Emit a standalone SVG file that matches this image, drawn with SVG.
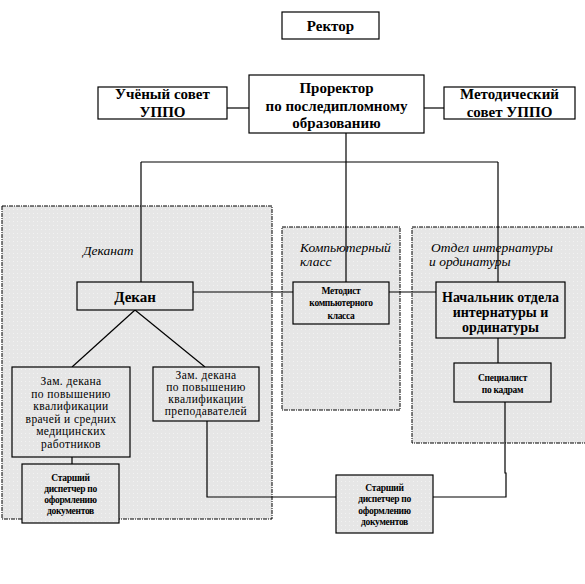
<svg xmlns="http://www.w3.org/2000/svg" width="585" height="584" viewBox="0 0 585 584" font-family="'Liberation Serif', 'Times New Roman', 'DejaVu Serif', serif">
<defs>
<pattern id="dots" width="4" height="4" patternUnits="userSpaceOnUse">
<rect width="4" height="4" fill="#e6e6e6"/>
<rect x="1" y="1" width="1" height="1" fill="#f2f2f2"/>
</pattern>
<style>
.region{fill:url(#dots);stroke:#000;stroke-width:1;stroke-dasharray:4 1 1 1}
.box{fill:#fff;stroke:#000;stroke-width:1.2}
.gbox{fill:url(#dots);stroke:#000;stroke-width:1.2}
.c{fill:none;stroke:#000;stroke-width:1.2}
text{font-family:'Liberation Serif','Times New Roman','DejaVu Serif',serif;fill:#000;text-anchor:middle}
.b15{font-size:15px;font-weight:bold}
.b14{font-size:14px;font-weight:bold}
.b10{font-size:9.5px;font-weight:bold;letter-spacing:-0.3px}
.r13{font-size:11.5px;letter-spacing:0.4px}
.lbl{font-size:13.5px;font-style:italic;text-anchor:start}
</style>
</defs>
<rect width="585" height="584" fill="#fff"/>
<g id="regions">
<rect id="dekanat-area" class="region" x="2" y="206" width="270" height="313"/>
<text class="lbl" x="83" y="255">Деканат</text>
<rect id="comp-area" class="region" x="282" y="227" width="118" height="183"/>
<text class="lbl" x="300" y="252">Компьютерный</text>
<text class="lbl" x="300" y="266">класс</text>
<rect id="otdel-area" class="region" x="412" y="227" width="176" height="216"/>
<text class="lbl" x="431" y="252">Отдел интернатуры</text>
<text class="lbl" x="429" y="266">и ординатуры</text>
</g>
<g id="connectors">
<line class="c" x1="227" y1="108" x2="249" y2="108"/>
<line class="c" x1="424" y1="108" x2="444" y2="108"/>
<line class="c" x1="346" y1="133" x2="346" y2="282"/>
<line class="c" x1="141" y1="162" x2="498" y2="162"/>
<line class="c" x1="141" y1="162" x2="141" y2="282"/>
<line class="c" x1="498" y1="162" x2="498" y2="282"/>
<line class="c" x1="193" y1="292" x2="293" y2="292"/>
<line class="c" x1="389" y1="292" x2="436" y2="292"/>
<line class="c" x1="135" y1="310" x2="72" y2="367"/>
<line class="c" x1="135" y1="310" x2="205" y2="367"/>
<line class="c" x1="72" y1="457" x2="72" y2="464"/>
<line class="c" x1="498" y1="338" x2="498" y2="363"/>
<polyline class="c" points="207,421 207,497 336,497"/>
<polyline class="c" points="505,402 505,473 506,473 506,497 433,497"/>
</g>
<g id="rektor">
<rect class="box" x="282" y="12" width="97" height="27"/>
<text class="b15" x="330.5" y="31">Ректор</text>
</g>
<g id="prorektor">
<rect class="box" x="249" y="75" width="175" height="58"/>
<text class="b15" x="336.5" y="93">Проректор</text>
<text class="b15" x="336.5" y="111">по последипломному</text>
<text class="b15" x="336.5" y="128">образованию</text>
</g>
<g id="uchsovet">
<rect class="box" x="98" y="87" width="129" height="32"/>
<text class="b15" x="162.5" y="99">Учёный совет</text>
<text class="b15" x="162.5" y="117">УППО</text>
</g>
<g id="metsovet">
<rect class="box" x="444" y="87" width="131" height="32"/>
<text class="b15" x="509.5" y="99">Методический</text>
<text class="b15" x="509.5" y="117">совет УППО</text>
</g>
<g id="dekan">
<rect class="gbox" x="77" y="282" width="116" height="28"/>
<text class="b15" x="135" y="302">Декан</text>
</g>
<g id="metodist">
<rect class="gbox" x="293" y="282" width="96" height="42"/>
<text class="b10" x="341" y="294">Методист</text>
<text class="b10" x="341" y="306">компьютерного</text>
<text class="b10" x="341" y="319">класса</text>
</g>
<g id="nachalnik">
<rect class="gbox" x="436" y="282" width="129" height="56"/>
<text class="b14" x="500.5" y="302">Начальник отдела</text>
<text class="b14" x="500.5" y="317">интернатуры и</text>
<text class="b14" x="500.5" y="332">ординатуры</text>
</g>
<g id="specialist">
<rect class="gbox" x="454" y="363" width="97" height="39"/>
<text class="b10" x="502.5" y="381">Специалист</text>
<text class="b10" x="502.5" y="393">по кадрам</text>
</g>
<g id="zam1">
<rect class="gbox" x="12" y="367" width="118" height="90"/>
<text class="r13" x="71" y="385">Зам. декана</text>
<text class="r13" x="71" y="397.5">по повышению</text>
<text class="r13" x="71" y="410">квалификации</text>
<text class="r13" x="71" y="422.5">врачей и средних</text>
<text class="r13" x="71" y="435">медицинских</text>
<text class="r13" x="71" y="447.5">работников</text>
</g>
<g id="zam2">
<rect class="gbox" x="153" y="367" width="106" height="54"/>
<text class="r13" x="206" y="379">Зам. декана</text>
<text class="r13" x="206" y="391">по повышению</text>
<text class="r13" x="206" y="403">квалификации</text>
<text class="r13" x="206" y="415">преподавателей</text>
</g>
<g id="dispatcher1">
<rect class="gbox" x="22" y="464" width="97" height="59"/>
<text class="b10" x="70.5" y="481">Старший</text>
<text class="b10" x="70.5" y="492">диспетчер по</text>
<text class="b10" x="70.5" y="503">оформлению</text>
<text class="b10" x="70.5" y="514">документов</text>
</g>
<g id="dispatcher2">
<rect class="gbox" x="336" y="475" width="97" height="58"/>
<text class="b10" x="384.5" y="491">Старший</text>
<text class="b10" x="384.5" y="502">диспетчер по</text>
<text class="b10" x="384.5" y="514">оформлению</text>
<text class="b10" x="384.5" y="525">документов</text>
</g>
</svg>
